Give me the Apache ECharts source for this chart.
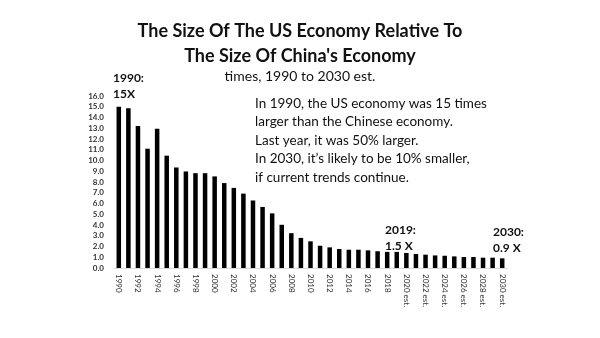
<!DOCTYPE html>
<html>
<head>
<meta charset="utf-8">
<script src="https://cdn.jsdelivr.net/npm/echarts@6/dist/echarts.min.js"></script>
<style>
  html, body { margin: 0; padding: 0; background: #fff; }
  #chart { width: 600px; height: 338px; }
</style>
</head>
<body>
<div id="chart"></div>
<script>
// Year labels: actual years through 2019, estimates afterwards
const years = [
  '1990','1991','1992','1993','1994','1995','1996','1997','1998','1999',
  '2000','2001','2002','2003','2004','2005','2006','2007','2008','2009',
  '2010','2011','2012','2013','2014','2015','2016','2017','2018','2019',
  '2020 est.','2021 est.','2022 est.','2023 est.','2024 est.','2025 est.',
  '2026 est.','2027 est.','2028 est.','2029 est.','2030 est.'
];

// US GDP divided by China GDP (times)
const ratio = [
  15.0, 14.85, 13.2, 11.1, 12.95, 10.45, 9.35, 8.98, 8.82, 8.82,
  8.52, 7.9, 7.45, 6.92, 6.28, 5.68, 5.08, 4.02, 3.24, 2.8,
  2.48, 2.07, 1.92, 1.77, 1.7, 1.7, 1.64, 1.56, 1.5, 1.5,
  1.4, 1.3, 1.24, 1.17, 1.14, 1.08, 1.02, 1.02, 0.96, 0.96, 0.9
];

const yTicks = { min: 0, max: 16, interval: 1 };

const noteLines = [
  'In 1990, the US economy was 15 times',
  'larger than the Chinese economy.',
  'Last year, it was 50% larger.',
  'In 2030, it\u2019s likely to be 10% smaller,',
  'if current trends continue.'
];

const FONT = 'Lato, "Open Sans", sans-serif';

const chart = echarts.init(document.getElementById('chart'));

function callout(x, y, lines) {
  return {
    type: 'text', left: x, top: y,
    style: {
      text: lines.join('\n'), font: 'bold 12px ' + FONT,
      fill: '#111', lineHeight: 16
    }
  };
}

chart.setOption({
  animation: false,
  backgroundColor: '#fff',
  title: {
    text: 'The Size Of The US Economy Relative To\nThe Size Of China\'s Economy',
    subtext: 'times, 1990 to 2030 est.',
    left: 'center',
    top: 14,
    itemGap: 0,
    textStyle: { fontFamily: FONT, fontWeight: 'bold', fontSize: 18, lineHeight: 25, color: '#111' },
    subtextStyle: { fontFamily: FONT, fontSize: 14, lineHeight: 14, color: '#111' }
  },
  grid: { left: 114, right: 93, top: 96, bottom: 70, containLabel: false },
  xAxis: {
    type: 'category',
    data: years,
    axisTick: { show: false },
    axisLine: { show: true, lineStyle: { color: '#d9d9d9', width: 1 } },
    axisLabel: {
      interval: 1, rotate: -90, margin: 6,
      fontFamily: FONT, fontSize: 8, color: '#333'
    }
  },
  yAxis: {
    type: 'value',
    min: yTicks.min, max: yTicks.max, interval: yTicks.interval,
    splitLine: { show: false },
    axisLine: { show: false },
    axisTick: { show: false },
    axisLabel: {
      margin: 10, fontFamily: FONT, fontSize: 8, fontWeight: 'bold', color: '#333',
      formatter: v => v.toFixed(1)
    }
  },
  series: [{
    type: 'bar',
    data: ratio,
    barWidth: 4.5,
    itemStyle: { color: '#000' }
  }],
  graphic: [
    callout(113, 70, ['1990:', '15X']),
    callout(385, 222, ['2019:', '1.5 X']),
    callout(493, 224, ['2030:', '0.9 X']),
    {
      type: 'text', left: 255, top: 94,
      style: {
        text: noteLines.join('\n'), font: '13.5px ' + FONT,
        fill: '#111', lineHeight: 18.5
      }
    }
  ]
});
</script>
</body>
</html>
